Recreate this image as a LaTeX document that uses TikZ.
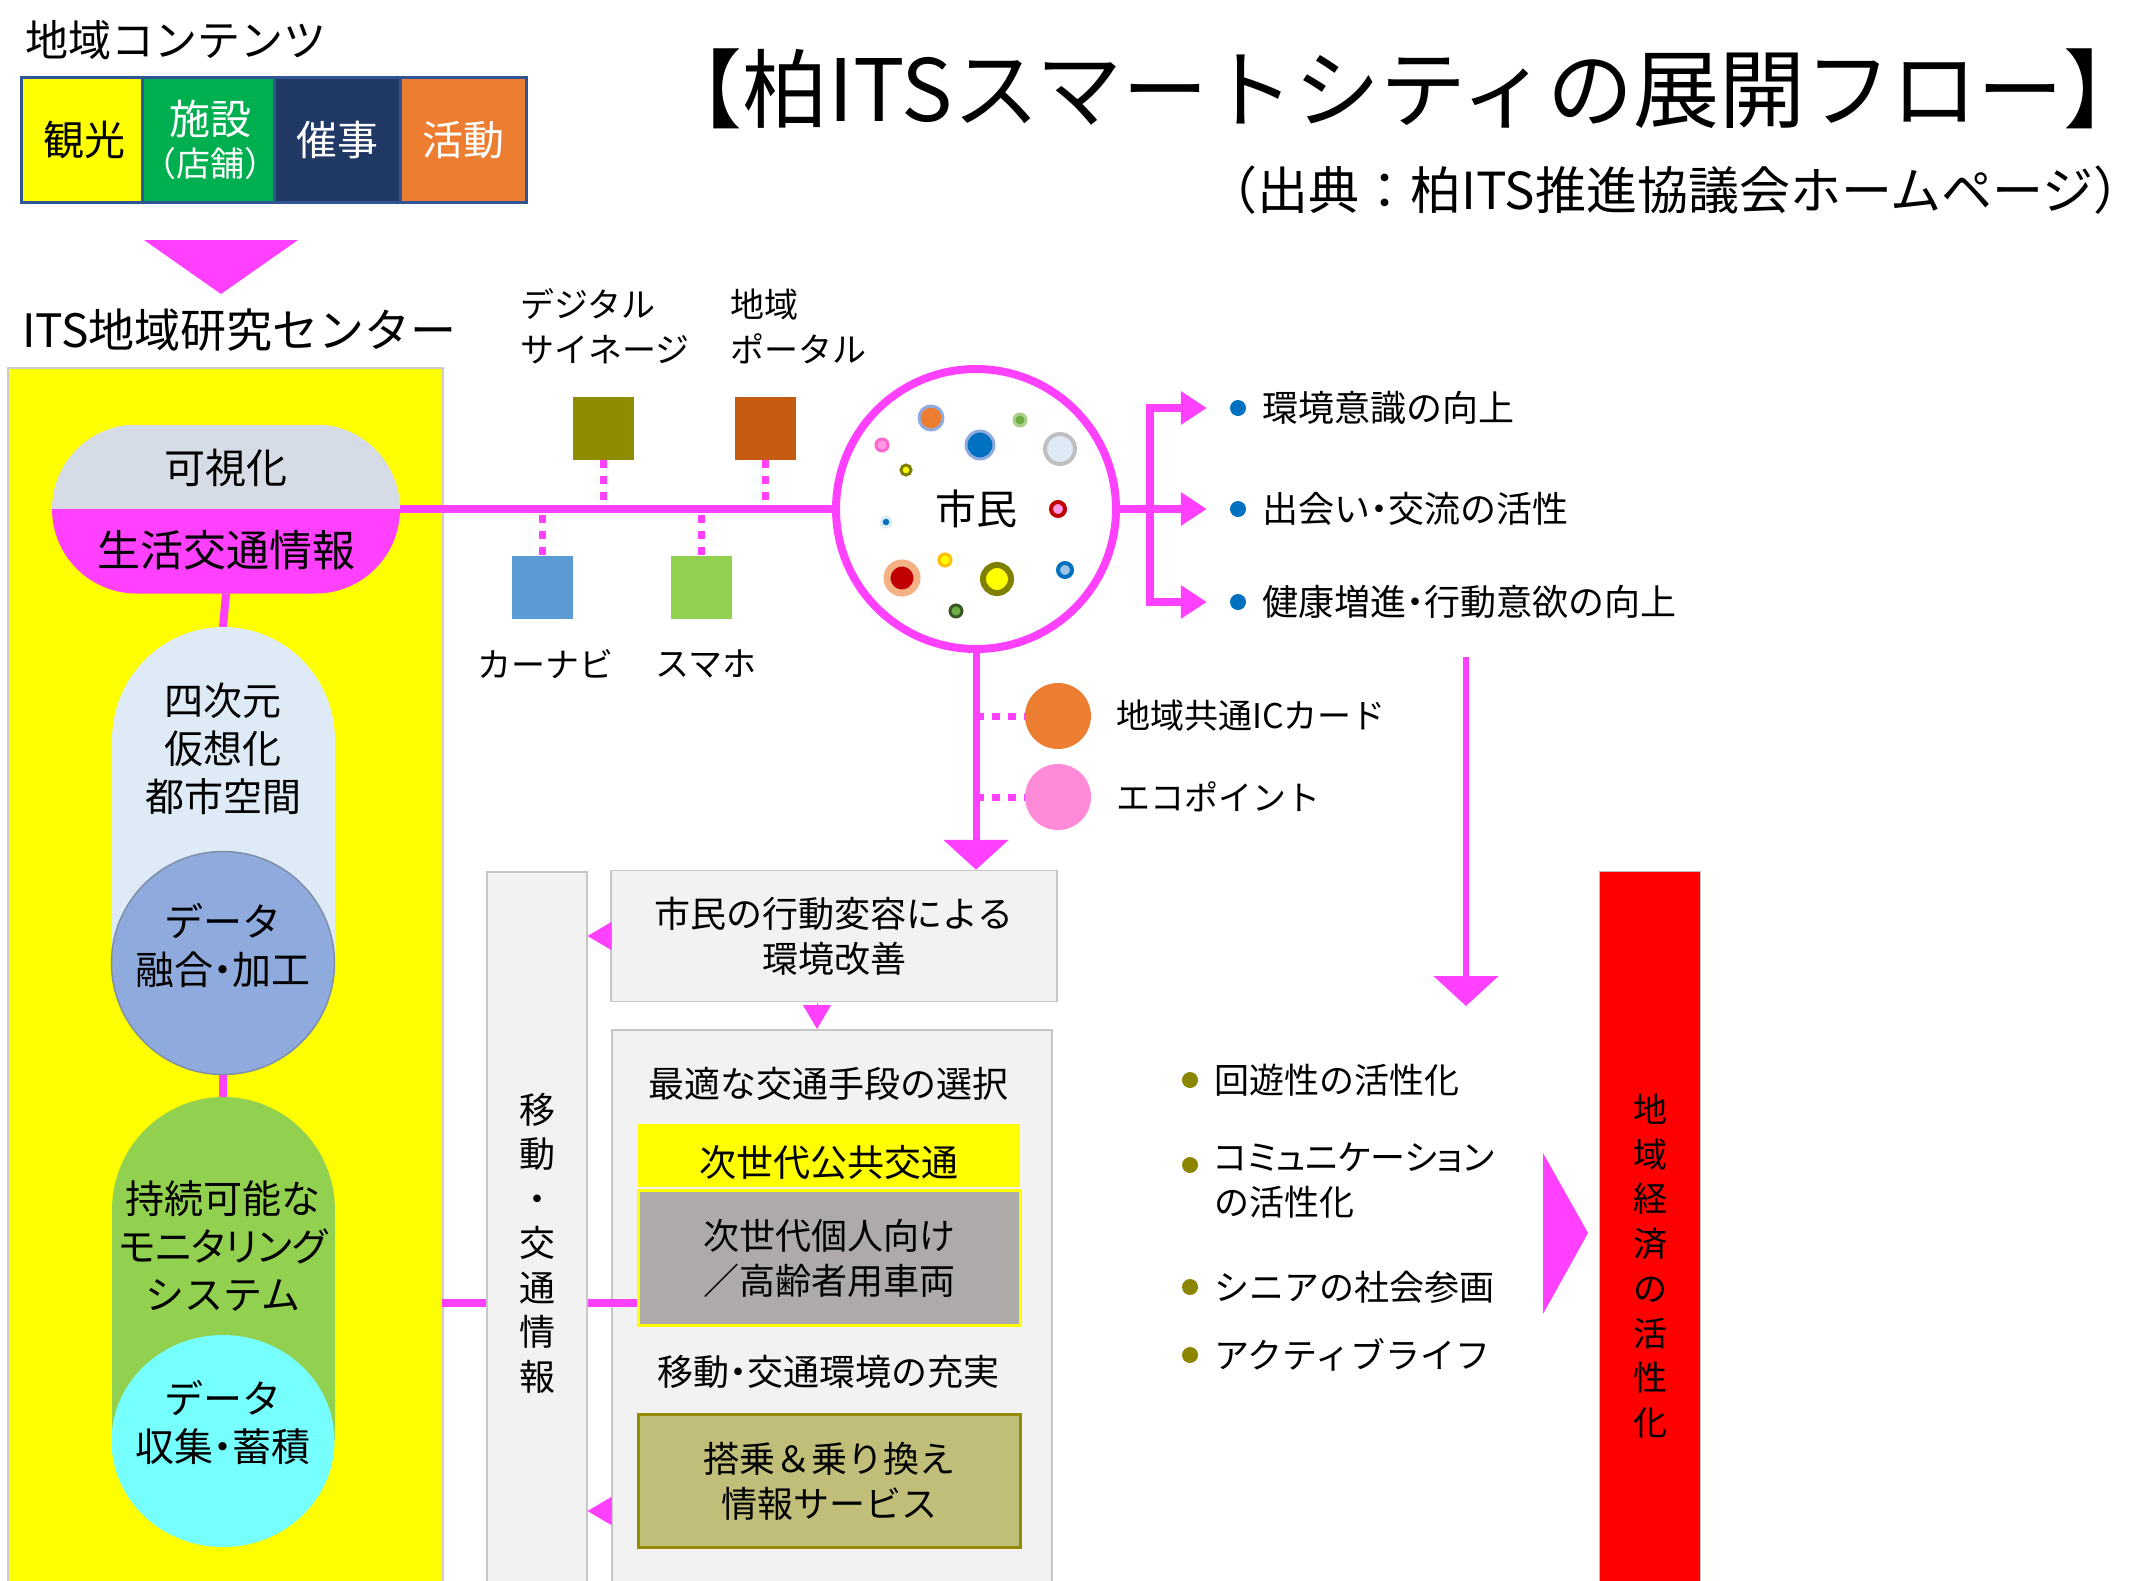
\documentclass[tikz,border=0pt]{standalone}
\usepackage{fontspec}
\setmainfont{Noto Sans CJK JP}
\usetikzlibrary{shapes.misc,shapes.geometric,arrows.meta,positioning}
\newcommand\jfs[2]{\fontsize{#1pt}{#2pt}\selectfont}
\newcommand\nd{{\addfontfeature{RawFeature=+palt}・}}
\definecolor{mag}{HTML}{FF40FF}
\definecolor{kyellow}{HTML}{FFFF00}
\definecolor{kgreen}{HTML}{00B050}
\definecolor{knavy}{HTML}{203864}
\definecolor{korange}{HTML}{ED7D31}
\definecolor{kborder}{HTML}{2F5597}
\definecolor{vgray}{HTML}{D6DCE5}
\definecolor{vblue}{HTML}{DEEBF7}
\definecolor{dblue}{HTML}{8FAADC}
\definecolor{dborder}{HTML}{7F8FA9}
\definecolor{mgreen}{HTML}{92D050}
\definecolor{ccyan}{HTML}{75FFFF}
\definecolor{sqolive}{HTML}{908C00}
\definecolor{sqbrown}{HTML}{C55A11}
\definecolor{sqblue}{HTML}{5B9BD5}
\definecolor{ecopink}{HTML}{FF8AD8}
\definecolor{bgray}{HTML}{F2F2F2}
\definecolor{pgray}{HTML}{AEAAAA}
\definecolor{ibox}{HTML}{C0BE78}
\definecolor{iborder}{HTML}{948A00}
\definecolor{bulblue}{HTML}{0070C0}
\definecolor{bulolive}{HTML}{8C8500}
\definecolor{ringblue}{HTML}{8FAADC}
\definecolor{dotlgreen}{HTML}{70AD47}
\definecolor{ringlgreen}{HTML}{A9D18E}
\definecolor{ringgray}{HTML}{BFBFBF}
\definecolor{dotpink}{HTML}{FF99E6}
\definecolor{ringpink}{HTML}{FF66CC}
\definecolor{ringolive}{HTML}{7F7F00}
\definecolor{dotred}{HTML}{C00000}
\definecolor{ringpeach}{HTML}{F4B183}
\definecolor{ringorange}{HTML}{FFC000}
\definecolor{dotlblue}{HTML}{9DC3E6}
\definecolor{ringdgreen}{HTML}{385723}
\begin{document}
\begin{tikzpicture}[x=1pt,y=-1pt,
  link/.style={mag, line width=8},
  dotlink/.style={mag, line width=7, dash pattern=on 8pt off 8pt},
  arrbig/.style={mag, line width=7, -{Triangle[length=30pt,width=64pt]}},
  arrside/.style={mag, line width=8, -{Triangle[length=26pt,width=32pt]}},
  arrsmall/.style={mag, line width=1, -{Triangle[length=24pt,width=28pt]}},
  cell/.style={draw=kborder, line width=3, minimum width=126, minimum height=125, inner sep=0, align=center, font=\jfs{41}{46}},
  gbox/.style={draw=gray!45, fill=bgray, line width=1.5, inner sep=0},
  inbox/.style={minimum width=382, inner sep=0, align=center, font=\jfs{36}{45}},
  txt/.style={inner sep=0, align=center, font=\jfs{36}{45}},
  lst/.style={inner sep=0, anchor=west, align=left, font=\jfs{35}{45}},
  sq/.style={minimum width=61, minimum height=63, inner sep=0},
  bul/.style={circle, minimum size=16, inner sep=0},
]
\useasboundingbox (0,0) rectangle (2147,1580);

\node[font=\jfs{86}{96}, inner sep=0] (title) at (1403,89) {【柏ITSスマートシティの展開フロー】};
\node[anchor=east, font=\jfs{51}{58}, inner sep=0] (src) at (2145,190) {（出典：柏ITS推進協議会ホームページ）};

\node[anchor=west, inner sep=0, font=\jfs{43}{50}] (cont) at (25,40) {地域コンテンツ};
\node[cell, fill=kyellow] (kanko) at (84,140) {観光};
\node[cell, fill=kgreen, text=white] (shisetsu) at (210,140) {施設\\[-4pt]{\jfs{34}{38}（店舗）}};
\node[cell, fill=knavy, text=white] (saiji) at (337,140) {催事};
\node[cell, fill=korange, text=white] (katsudo) at (463,140) {活動};
\fill[mag] (144,240) -- (298,240) -- (221,294) -- cycle;
\node[anchor=west, inner sep=0, font=\jfs{46}{52}] (itslbl) at (22,330) {ITS地域研究センター};

\node[draw=gray!40, fill=kyellow, line width=1.5, minimum width=435, minimum height=1220, anchor=north west, inner sep=0] (its) at (7,367) {};

\node[rounded rectangle, minimum width=348, minimum height=169, inner sep=0,
  path picture={\fill[vgray] (path picture bounding box.north west) rectangle (path picture bounding box.east);
    \fill[mag] (path picture bounding box.west) rectangle (path picture bounding box.south east);}] (vis) at (226,509) {};
\node[txt, font=\jfs{41}{48}] (vistop) at (226,468) {可視化};
\node[txt, font=\jfs{43}{50}] (visbot) at (226,550) {生活交通情報};

\coordinate (vr) at (223,627);
\coordinate (mon) at (223,1097);
\draw[link] (vis.south) -- (vr);
\fill[vblue] (112,960) -- (112,740) arc[start angle=180, end angle=0, x radius=111.5pt, y radius=113pt] -- (335,960) -- cycle;
\node[txt, font=\jfs{39}{48}] (vrtxt) at (223,749) {四次元\\仮想化\\都市空間};
\node[ellipse, minimum width=223, minimum height=223, inner sep=0, fill=dblue, draw=dborder, line width=1.5] (fuse) at (223,963) {};
\node[txt, font=\jfs{39}{48}] (fusetxt) at (223,945) {データ\\融合\nd 加工};
\draw[link] (fuse.south) -- (mon);
\fill[mgreen] (112,1440) -- (112,1210) arc[start angle=180, end angle=0, x radius=111.5pt, y radius=113pt] -- (335,1440) -- cycle;
\node[txt, font=\jfs{39}{48}] (montxt) at (223,1246) {持続可能な\\{\addfontfeature{RawFeature=+palt}モニタリング}\\システム};
\node[ellipse, minimum width=223, minimum height=212, inner sep=0, fill=ccyan] (coll) at (223,1441) {};
\node[txt, font=\jfs{39}{48}] (colltxt) at (223,1423) {データ\\収集\nd 蓄積};

\node[circle, draw=mag, line width=8, minimum size=280, inner sep=0, font=\jfs{41}{48}] (cit) at (976,509) {市民};
\foreach \px/\py/\pr/\pf/\pd/\pw in {931/418/12/korange/ringblue/3, 980/445/14/bulblue/ringblue/3,
  1020/420/6/dotlgreen/ringlgreen/3, 1060/449/15/vblue/ringgray/4, 882/445/6/dotpink/ringpink/3,
  906/470/5/kyellow/ringolive/3, 886/522/5/bulblue/vblue/3, 1058/509/7/dotpink/dotred/4,
  902/578/15/dotred/ringpeach/7, 945/560/6/kyellow/ringorange/3, 997/579/14/kyellow/ringolive/6,
  1065/570/7/dotlblue/bulblue/4, 956/611/6/dotlgreen/ringdgreen/3}
  \draw[fill=\pf, draw=\pd, line width=\pw] (\px,\py) circle[radius=\pr pt];

\draw[link] (vis.east) -- (cit.west);
\node[sq, fill=sqolive] (dsig) at (603,428) {};
\node[sq, fill=sqbrown] (portal) at (765,428) {};
\node[sq, fill=sqblue] (navi) at (542,587) {};
\node[sq, fill=mgreen] (phone) at (701,587) {};
\draw[dotlink] (dsig.south) -- (dsig.south |- cit.west);
\draw[dotlink] (portal.south) -- (portal.south |- cit.west);
\draw[dotlink] (navi.north) -- (navi.north |- cit.west);
\draw[dotlink] (phone.north) -- (phone.north |- cit.west);
\node[anchor=west, align=left, inner sep=0, font=\jfs{34}{45}] (dsiglbl) at (520,326) {デジタル\\サイネージ};
\node[anchor=west, align=left, inner sep=0, font=\jfs{34}{45}] (portallbl) at (730,326) {地域\\ポータル};
\node[txt, font=\jfs{34}{45}] (navilbl) at (545,664) {カーナビ};
\node[txt, font=\jfs{34}{45}] (phonelbl) at (706,664) {スマホ};

\coordinate (brk) at (1150,509);
\node[bul, fill=bulblue] (ben1) at (1238,408) {};
\node[bul, fill=bulblue] (ben2) at (1238,509) {};
\node[bul, fill=bulblue] (ben3) at (1238,602) {};
\draw[link] (cit.east) -- (brk);
\draw[link, line cap=rect] (brk |- ben1) -- (brk |- ben3);
\draw[arrside] (brk |- ben1) -- ([xshift=-23pt]ben1.west);
\draw[arrside] (brk) -- ([xshift=-23pt]ben2.west);
\draw[arrside] (brk |- ben3) -- ([xshift=-23pt]ben3.west);
\node[lst, font=\jfs{36}{45}] (ben1txt) at (1262,408) {環境意識の向上};
\node[lst, font=\jfs{36}{45}] (ben2txt) at (1262,509) {出会い\nd 交流の活性};
\node[lst, font=\jfs{36}{45}] (ben3txt) at (1262,602) {健康増進\nd 行動意欲の向上};

\node[circle, fill=korange, minimum size=66, inner sep=0] (ic) at (1058,716) {};
\node[circle, fill=ecopink, minimum size=66, inner sep=0] (eco) at (1058,797) {};
\draw[dotlink] (cit.south |- ic) -- (ic.west);
\draw[dotlink] (cit.south |- eco) -- (eco.west);
\node[lst, font=\jfs{34}{45}] (ictxt) at (1116,716) {地域共通ICカード};
\node[lst, font=\jfs{34}{45}] (ecotxt) at (1116,797) {エコポイント};

\node[gbox, txt, minimum width=446, minimum height=131] (bhv) at (834,936) {市民の行動変容による\\環境改善};
\draw[arrbig] (cit.south) -- (cit.south |- bhv.north);
\node[gbox, minimum width=440, minimum height=560, anchor=north west] (big) at (611,1029) {};
\coordinate (ds) at (817,1003);
\draw[arrsmall] (ds) -- (ds |- big.north);

\node[inbox, fill=kyellow, minimum height=63] (pt) at (829,1155) {};
\node[txt, font=\jfs{37}{45}] (pttxt) at (829,1162) {次世代公共交通};
\node[inbox, fill=pgray, draw=kyellow, line width=3, minimum height=135] (pv) at (829,1258) {次世代個人向け\\／高齢者用車両};
\node[inbox, fill=ibox, draw=iborder, line width=3, minimum height=133] (info) at (829,1481) {搭乗＆乗り換え\\情報サービス};
\node[txt] (opt) at (828,1084) {最適な交通手段の選択};
\node[txt] (env) at (828,1372) {移動\nd 交通環境の充実};

\coordinate (lk) at (442,1303);
\draw[link] (lk) -- (lk -| pv.west);
\node[gbox, minimum width=100, minimum height=720, anchor=north west] (mv) at (486,871) {};
\node[txt, font=\jfs{36}{44.5}] (mvtxt) at (537,1243) {移\\動\\・\\交\\通\\情\\報};
\coordinate (fb) at (611,1511);
\draw[arrsmall] (bhv.west) -- (bhv.west -| mv.east);
\draw[arrsmall] (fb) -- (fb -| mv.east);

\coordinate (dn) at (1466,657);
\coordinate (dnend) at (1466,1006);
\draw[arrbig, line width=6] (dn) -- (dnend);

\node[bul, fill=bulolive] (ec1) at (1190,1080) {};
\node[bul, fill=bulolive] (ec2) at (1190,1165) {};
\node[bul, fill=bulolive] (ec3) at (1190,1287) {};
\node[bul, fill=bulolive] (ec4) at (1190,1355) {};
\node[lst] (ec1txt) at (1214,1080) {回遊性の活性化};
\node[lst, anchor=north west] (ec2txt) at (1214,1143) {{\addfontfeature{RawFeature=+palt}コミュニケーション}\\の活性化};
\node[lst] (ec3txt) at (1214,1287) {シニアの社会参画};
\node[lst] (ec4txt) at (1214,1355) {アクティブライフ};

\fill[mag] (1543,1153) -- (1588,1233) -- (1543,1314) -- cycle;
\node[draw=gray!50, fill=red, line width=1, minimum width=101, minimum height=720, anchor=north west, inner sep=0] (econ) at (1599,871) {};
\node[txt, font=\jfs{34}{44.7}] (econtxt) at (1650,1266) {地\\域\\経\\済\\の\\活\\性\\化};
\end{tikzpicture}
\end{document}
